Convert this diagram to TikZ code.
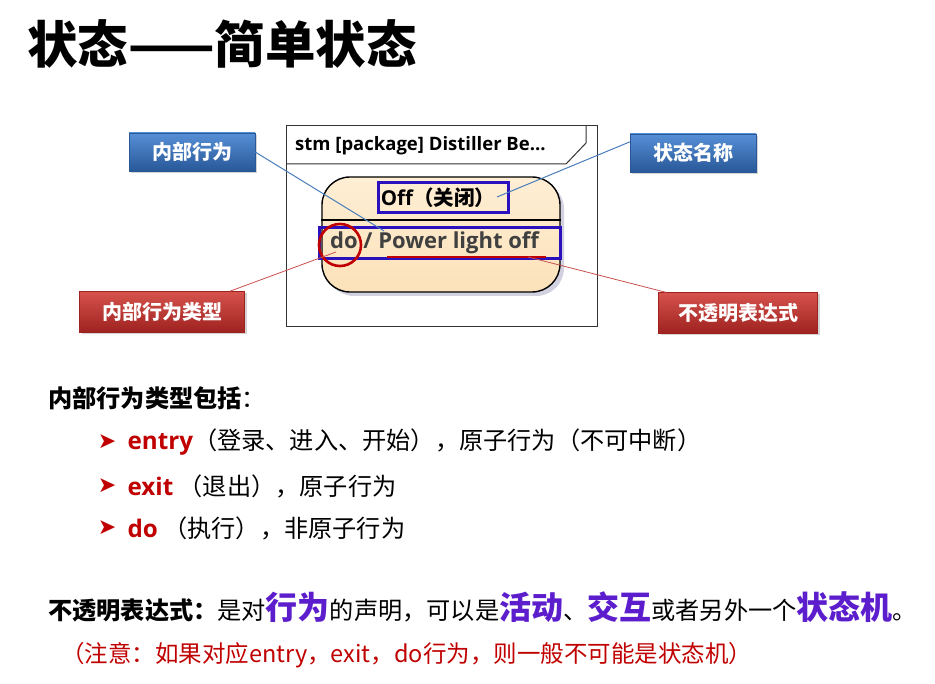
\documentclass[tikz,border=0pt]{standalone}
\usepackage{fontspec}
\setmainfont{Carlito}
\newfontfamily\cjk{Noto Sans CJK SC}
\newfontfamily\uml{Open Sans}
\newfontfamily\sym{DejaVu Sans}
\usetikzlibrary{positioning,shadows}
\definecolor{calloutblueTop}{RGB}{86,143,214}
\definecolor{calloutblueBot}{RGB}{40,88,152}
\definecolor{calloutredTop}{RGB}{214,82,76}
\definecolor{calloutredBot}{RGB}{158,34,32}
\definecolor{markblue}{RGB}{43,16,190}
\definecolor{markred}{RGB}{192,0,0}
\definecolor{leaderblue}{RGB}{74,126,187}
\definecolor{leaderred}{RGB}{200,80,77}
\definecolor{stateTop}{RGB}{254,238,212}
\definecolor{stateBot}{RGB}{252,226,186}
\definecolor{accentpurple}{RGB}{92,30,204}
\definecolor{textgray}{RGB}{64,64,64}
\newcommand{\kw}[1]{{\uml\bfseries\color{markred}#1}}
\newcommand{\hl}[1]{{\bfseries\fontsize{32}{34}\selectfont\color{accentpurple}#1}}

\begin{document}
\begin{tikzpicture}[x=1pt, y=-1pt,
  callout/.style={minimum height=38pt, inner sep=2pt, text=white,
                  font=\cjk\bfseries\fontsize{20}{23}\selectfont,
                  drop shadow={opacity=0.35, shadow xshift=2pt, shadow yshift=-2pt}},
  bluecallout/.style={callout, minimum width=126pt, top color=calloutblueTop,
                      bottom color=calloutblueBot, draw=calloutblueBot, line width=0.4pt},
  redcallout/.style={callout, minimum height=41pt, top color=calloutredTop,
                     bottom color=calloutredBot, draw=calloutredBot, line width=0.4pt},
  frame/.style={draw=black!80, line width=1pt},
  statebox/.style={draw=black, line width=1.4pt, rounded corners=28pt,
                   top color=stateTop, bottom color=stateBot,
                   minimum width=238pt, minimum height=115pt,
                   drop shadow={opacity=0.3, fill=blue!20!gray, shadow xshift=4pt, shadow yshift=-4pt}},
  hilite/.style={draw=markblue, line width=3pt, minimum height=30pt},
  ring/.style={circle, draw=markred, line width=2.6pt, minimum size=42pt, inner sep=0pt},
  leadblue/.style={draw=leaderblue, line width=1pt},
  leadred/.style={draw=leaderred, line width=0.8pt},
  body/.style={anchor=west, inner sep=0pt, font=\cjk\fontsize{24.2}{28}\selectfont},
  bullet/.style={inner sep=0pt, text=markred, font=\sym\fontsize{22}{24}\selectfont}]
\useasboundingbox (0,0) rectangle (935,684);

\node[anchor=west, inner sep=0pt, font=\cjk\bfseries\fontsize{50.5}{55}\selectfont] (title) at (27,44) {状态——简单状态};

\draw[frame] (286,126) rectangle (597,327);
\draw[frame] (286,164) -- (566,164) -- (586,143) -- (586,126);
\node[anchor=west, inner sep=0pt, font=\uml\bfseries\fontsize{18.5}{21}\selectfont] (stm) at (295,146) {stm [package] Distiller Be...};

\node[statebox] (state) at (441,234.5) {};
\draw[line width=1.2pt] (state.west |- 0,220) -- (state.east |- 0,220);
\node[font=\uml\bfseries\fontsize{20.5}{24}\selectfont] (statename) at (438,198) {Off{\cjk（关闭）}};
\node[anchor=west, inner sep=0pt, text=textgray, font=\uml\bfseries\fontsize{22}{25}\selectfont] (dotext) at (330,243) {do / Power light off};
\node[hilite, minimum width=130pt] (namebox) at (443,198) {};
\node[hilite, minimum width=241pt, minimum height=31pt] (dobox) at (439.5,243.5) {};
\node[ring] (doring) at (340,245) {};
\coordinate (ulstart) at (387,257);
\coordinate (ulend) at (546,257);
\draw[markred, line width=2.6pt] (ulstart) -- (ulend);

\node[bluecallout] (behaviour) at (192,152) {内部行为};
\node[bluecallout] (namelabel) at (693,153) {状态名称};
\node[redcallout, minimum width=165pt] (kindlabel) at (162,312) {内部行为类型};
\node[redcallout, minimum width=159pt] (opaquelabel) at (738,313) {不透明表达式};

\coordinate (behavtip) at (384,231);
\coordinate (nametip) at (497,197);
\coordinate (kindtip) at (336,252);
\coordinate (opaquetip) at (528,257);
\draw[leadblue] (behaviour.east) -- (behavtip);
\draw[leadblue] (namelabel.170) -- (nametip);
\draw[leadred] (kindlabel.17) -- (kindtip);
\draw[leadred] (opaquetip) -- (opaquelabel.164);

\node[body] (kindhead) at (48,398) {{\bfseries 内部行为类型包括}：};
\node[bullet] (b1) at (107,442) {➤};
\node[bullet] (b2) at (107,486) {➤};
\node[bullet] (b3) at (107,528) {➤};
\node[body, right=11pt of b1] (entryline) {\kw{entry}（登录、进入、开始），原子行为（不可中断）};
\node[body, right=11pt of b2] (exitline) {\kw{exit} （退出），原子行为};
\node[body, right=11pt of b3] (doline) {\kw{do} （执行），非原子行为};

\node[body] (opaquedef) at (48,607) {{\bfseries 不透明表达式：}是对\hl{行为}的声明，可以是\hl{活动}、\hl{交互}或者另外一个\hl{状态机}。};
\node[body, text=markred, font=\cjk\fontsize{23.5}{27}\selectfont] (note) at (61,655) {（注意：如果对应entry，exit，do行为，则一般不可能是状态机）};
\end{tikzpicture}
\end{document}
